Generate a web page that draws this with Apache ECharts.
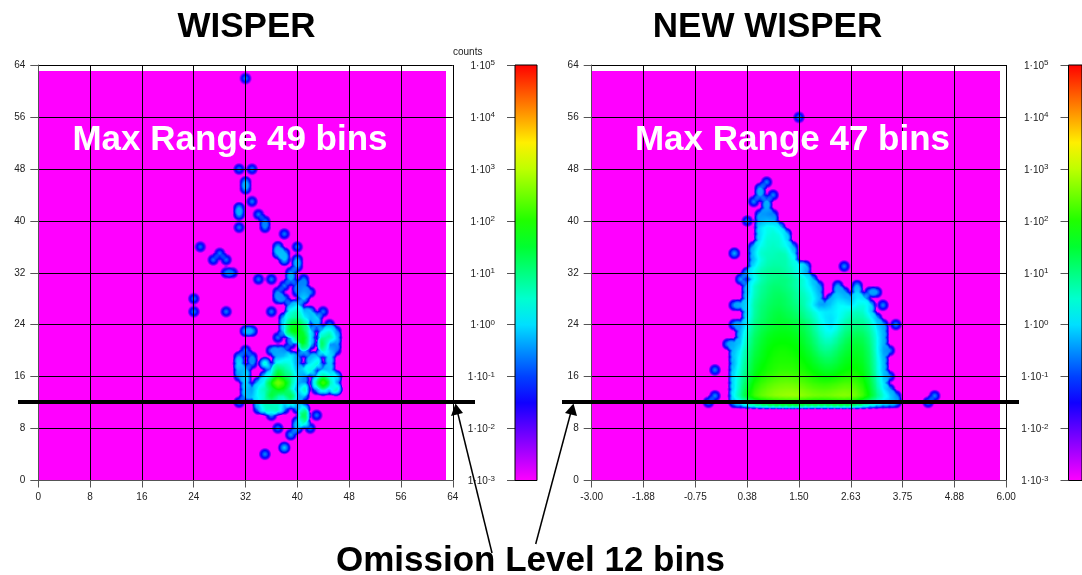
<!DOCTYPE html>
<html><head><meta charset="utf-8">
<style>html,body{margin:0;padding:0;background:#fff;overflow:hidden}#c{width:1082px;height:575px}</style>
<script src="https://cdn.jsdelivr.net/npm/echarts@6/dist/echarts.min.js"></script>
</head><body><div id="c"></div>
<script>
// counts per bin, [y, x, v, x, v, ...]
const leftBins = [
[62,32,.25],[48,31,.25,33,.25],[46,32,.5],[45,32,.5],[43,33,.25],[42,31,.5],[41,31,.5,34,.25],
[40,35,.25],[39,35,.3,31,.25],[38,38,.25],[36,25,.2,37,.5,40,.25],[35,28,.25,37,.7,38,.6],
[34,27,.25,29,.25,38,.7,40,.5],[33,40,.5],[32,29,.25,30,.2,39,.5],[31,34,.25,36,.25,39,.5,41,.25],
[30,38,.3,40,.25,41,.3],[29,37,.3,40,.25,41,.5,42,.3],[28,24,.25,37,.4,38,.3,41,.8],
[27,39,.5,40,1],[26,24,.25,29,.25,36,.25,39,2,40,5,41,.5,42,.8,44,.25],
[25,38,.8,39,5,40,8,41,2,42,.5,43,1],[24,38,1,39,30,40,50,41,8,43,.5,45,.25],
[23,32,.6,33,.5,38,.8,39,50,40,80,41,20,42,1,44,1,45,3,46,.3],
[22,37,.25,39,.3,40,20,41,60,42,1,44,5,45,8,46,.8],[21,39,.25,41,40,42,.8,44,20,45,.2,46,.4],
[20,32,.3,36,.4,37,.5,38,.3,41,1,44,3,45,1,46,.25],
[19,31,.5,33,.3,37,.5,38,.8,39,1.5,40,.3,42,.5,43,.8,45,1],
[18,31,1,33,.3,35,3,37,2,38,3,39,2,40,.3,42,1,43,3,45,.8],
[17,31,.6,32,.6,36,.6,37,20,38,8,39,3,40,.5,41,1,42,3,44,.5,45,.8],
[16,31,.3,32,1,35,1,36,3,37,60,38,15,39,8,40,.8,41,.3,43,.5,44,8,45,1.5,46,1.5],
[15,32,.8,34,.8,35,2,36,60,37,500,38,120,39,8,40,.5,41,.3,43,5,44,300,45,8,46,.3],
[14,32,.8,33,.3,34,2,35,5,36,15,37,60,38,40,39,3,40,.3,41,5,43,.3,44,3,45,.5,46,5],
[13,32,.6,33,.6,34,2,35,3,36,40,37,5,38,5,39,30,40,.5,41,.6],
[12,31,.3,34,1,35,5,36,3,37,3,38,1,39,3,40,.5],
[11,34,.4,35,3,36,5,37,4,38,.3,40,.3,41,3],[10,36,.3,41,20,43,.25],[9,40,.5,41,5],
[8,37,.25,40,.6,42,.25],[7,39,.4],[5,38,.8],[4,35,.3]
];
// [y, first x, counts...]
const rightRows = [
[56,32,[.25]],[46,27,[.3]],[45,26,[.5]],[44,26,[.5]],[44,28,[.3]],[43,25,[.3]],[43,27,[.5]],[42,27,[.5]],
[41,26,[.4,.3,.25]],[40,24,[.25]],[40,26,[.4,.6,.5]],[39,26,[1,2,2,1]],[38,26,[1,2,3,2,.8]],[37,26,[1,3,3,3,1]],
[36,25,[.5,2,3,4,3,2,.5]],[35,22,[.5]],[35,25,[.7,3,4,4,5,4,1]],[34,25,[.5,2,4,5,5,5,2]],
[33,25,[1,3,5,6,6,5,3,1.5,.7]],[33,39,[.3]],[32,24,[.6,2,5,7,8,8,6,4,1.5,.5]],
[31,23,[.5]],[31,25,[1,4,7,9,10,10,7,4,2,.6]],
[30,24,[.5,3,6,9,12,12,10,7,4,2,1,.4]],[30,38,[.4]],[30,41,[.5]],
[29,24,[.6,3,7,10,14,15,12,9,5,3,1.5,.5]],[29,38,[.6,.4]],[29,41,[.9]],[29,43,[.4,.4]],
[28,24,[.7,4,8,12,16,18,15,10,6,4,2,.7]],[28,37,[.5,1,.7,.5,1.5,1]],
[27,22,[.4,.5,1,5,10,14,18,20,16,12,8,4,1.5,.4,.4,.8,1.5,1.5,1,2,2.5,1]],[27,45,[.3]],
[26,24,[.8,5,11,16,22,25,20,16,10,6,3,1.5,1.2,1.2,1.5,2,3,4,3,.8]],
[25,24,[1,6,12,18,25,30,25,20,15,8,5,2,1.2,1,1.5,3,5,6,5,2,.5]],
[24,22,[.4,.4,1.5,8,15,22,30,35,35,30,25,15,8,3,1.5,1,2,5,8,9,8,4,1,.4]],[24,47,[.3]],
[23,23,[.5,3,10,20,30,40,45,45,40,30,20,10,4,2,1.5,3,8,12,15,12,6,1.5,.5]],
[22,23,[.6,4,14,25,40,50,55,55,50,40,25,14,6,3,3,6,12,20,22,18,8,2,.5]],
[21,21,[.4,.5,.8,5,16,30,45,60,65,65,60,50,30,18,8,5,5,9,18,28,30,22,10,2,.5]],
[20,22,[.6,1.5,7,20,35,55,70,80,80,70,60,40,25,12,8,9,15,25,35,38,28,12,2,.4,.3]],
[19,22,[.7,2,8,25,40,60,80,90,90,85,70,50,35,20,14,14,22,35,45,45,32,14,2.5,.5]],
[18,22,[.5,2.5,10,30,50,70,90,100,100,100,85,65,45,30,22,22,30,45,55,55,38,15,3,.6]],
[17,19,[.3]],[17,22,[.8,3,12,35,60,80,100,120,120,120,100,80,60,45,35,35,45,60,70,65,45,18,3,.6]],
[16,22,[1,4,15,45,80,110,140,170,180,170,150,120,90,70,60,60,75,90,100,90,60,22,4,.8,.3]],
[15,22,[1,5,20,70,120,170,220,260,280,270,230,180,140,120,110,120,140,170,170,130,80,28,5,1]],
[14,22,[1,6,30,100,180,260,340,400,430,430,380,300,240,210,200,220,260,300,280,200,110,35,7,1.5,.4]],
[13,19,[.3]],[13,53,[.3]],
[13,22,[1.5,8,40,130,240,340,450,540,600,620,560,460,380,340,330,370,430,470,420,280,140,45,10,3,1,.3]],
[12,18,[.3]],[12,52,[.3]],
[12,22,[.5,1,4,9,17,25,32,38,42,43,40,34,29,27,27,29,32,34,30,20,10,4,2,1,.8,.5]]
];
const gridTicks = [0,8,16,24,32,40,48,56,64];
const leftXLabels = ['0','8','16','24','32','40','48','56','64'];
const rightXLabels = ['-3.00','-1.88','-0.75','0.38','1.50','2.63','3.75','4.88','6.00'];

const FONT='"Liberation Sans",Arial,sans-serif';
function hsv(h){ const f=(n)=>{const k=(n+h/60)%6;return 255*(1-Math.max(0,Math.min(k,4-k,1)));}; return [f(5),f(3),f(1)]; }
function gridFrom(list){ const g=[];for(let y=0;y<64;y++)g.push(new Float64Array(64)); list(g); return g; }
function toCanvas(g){
  const P=1/3,S=7,N=63*S+1,RAD=1.15,r=Math.ceil(RAD*S);
  const c=document.createElement('canvas');c.width=N;c.height=N;
  const ctx=c.getContext('2d'),im=ctx.createImageData(N,N);
  const sum=new Float64Array(N*N),wt=new Float64Array(N*N);
  for(let y=0;y<64;y++)for(let x=0;x<64;x++){
    if(!g[y][x])continue;const a=Math.pow(g[y][x],P);
    const px0=x*S,py0=(63-y)*S;
    for(let dy=-r;dy<=r;dy++){const py=py0+dy;if(py<0||py>=N)continue;
      for(let dx=-r;dx<=r;dx++){const px=px0+dx;if(px<0||px>=N)continue;
        const w=1-Math.sqrt(dx*dx+dy*dy)/(S*RAD);if(w<=0)continue;sum[py*N+px]+=a*w;wt[py*N+px]+=w;}}
  }
  for(let i=0;i<N*N;i++){const v=Math.pow(sum[i]/Math.max(1,wt[i]),1/P);
    const e=v<=1e-3?-3:Math.min(5,Math.log10(v));
    const col=hsv(37.5*(5-e));im.data[i*4]=col[0];im.data[i*4+1]=col[1];im.data[i*4+2]=col[2];im.data[i*4+3]=255;}
  ctx.putImageData(im,0,0);return c;
}
const leftImage=toCanvas(gridFrom(g=>{leftBins.forEach(r=>{for(let i=1;i<r.length;i+=2)g[r[0]][r[i]]=r[i+1];});}));
const rightImage=toCanvas(gridFrom(g=>{rightRows.forEach(r=>{r[2].forEach((v,i)=>{g[r[0]][r[1]+i]=v;});});}));

const imageItem=(img)=>(params,api)=>{
  const a=api.coord([0,63]),b=api.coord([63,0]);
  return {type:'image',style:{image:img,x:a[0],y:a[1],width:b[0]-a[0],height:b[1]-a[1]}};
};
const barItem=(params,api)=>{
  const a=api.coord([0,5]),b=api.coord([1,-3]);
  const stops=[];for(let i=0;i<=16;i++){const c=hsv(37.5*i*0.5);stops.push({offset:i/16,color:`rgb(${c.map(Math.round).join(',')})`});}
  return {type:'rect',shape:{x:a[0],y:a[1],width:b[0]-a[0],height:b[1]-a[1]},
    style:{fill:new echarts.graphic.LinearGradient(0,0,0,1,stops),stroke:'#000',lineWidth:1}};
};
const tickStyle={color:'#555',width:1};
const labelStyle={fontFamily:FONT,fontSize:10,color:'#222'};
function mainX(i,labels){return {gridIndex:i,type:'value',min:0,max:64,interval:8,z:5,
  axisLine:{show:true,onZero:false,lineStyle:tickStyle},axisTick:{show:true,length:7,lineStyle:tickStyle},
  splitLine:{show:true,lineStyle:{color:'#000',width:1}},
  axisLabel:{...labelStyle,margin:12,hideOverlap:false,showMinLabel:true,showMaxLabel:true,formatter:v=>labels[gridTicks.indexOf(v)]}};}
function mainY(i){return {gridIndex:i,type:'value',min:0,max:64,interval:8,z:5,
  axisLine:{show:true,onZero:false,lineStyle:tickStyle},axisTick:{show:true,length:8,lineStyle:tickStyle},
  splitLine:{show:true,lineStyle:{color:'#000',width:1}},
  axisLabel:{...labelStyle,margin:13,showMinLabel:true,showMaxLabel:true}};}
function barX(i){return {gridIndex:i,type:'value',min:0,max:1,show:false};}
function barY(i){return {gridIndex:i,type:'value',min:-3,max:5,interval:1,
  axisLine:{show:false},axisTick:{show:true,length:8,lineStyle:tickStyle},splitLine:{show:false},
  axisLabel:{margin:20,showMinLabel:true,showMaxLabel:true,
    formatter:v=>'{a|1·10}{s|'+v+'}',
    rich:{a:{...labelStyle,verticalAlign:'bottom',lineHeight:12},s:{...labelStyle,fontSize:8,verticalAlign:'top',lineHeight:12,padding:[0,0,4,0]}}}};}
const TOP=65,H=415.5;
const chart=echarts.init(document.getElementById('c'),null,{renderer:'canvas',width:1082,height:575});
const line=(x1,y1,x2,y2,w)=>({type:'line',z:20,shape:{x1,y1,x2,y2},style:{stroke:'#000',lineWidth:w}});
const head=(pts)=>({type:'polygon',z:21,shape:{points:pts},style:{fill:'#000'}});
const txt=(t,x,y,size,fill,ax)=>({type:'text',z:20,x,y,style:{text:t,fill,font:`bold ${size}px ${FONT}`,textAlign:ax||'center',textVerticalAlign:'middle'}});
chart.setOption({
  animation:false,backgroundColor:'#fff',
  grid:[{left:38.3,top:TOP,width:414.5,height:H},{left:591.7,top:TOP,width:414.5,height:H},
        {left:515,top:TOP,width:22,height:H},{left:1068.5,top:TOP,width:22,height:H}],
  xAxis:[mainX(0,leftXLabels),mainX(1,rightXLabels),barX(2),barX(3)],
  yAxis:[mainY(0),mainY(1),barY(2),barY(3)],
  series:[
    {type:'custom',xAxisIndex:0,yAxisIndex:0,clip:false,data:[[0,0]],renderItem:imageItem(leftImage),silent:true},
    {type:'custom',xAxisIndex:1,yAxisIndex:1,clip:false,data:[[0,0]],renderItem:imageItem(rightImage),silent:true},
    {type:'custom',xAxisIndex:2,yAxisIndex:2,clip:false,data:[[0,0]],renderItem:barItem,silent:true},
    {type:'custom',xAxisIndex:3,yAxisIndex:3,clip:false,data:[[0,0]],renderItem:barItem,silent:true}
  ],
  graphic:[
    txt('WISPER',246.5,27,35,'#000'),txt('NEW WISPER',767.5,27,35,'#000'),
    txt('Max Range 49 bins',230,140,35,'#fff'),txt('Max Range 47 bins',792.5,140,35,'#fff'),
    txt('Omission Level 12 bins',530.5,561,35,'#000'),
    {type:'text',z:20,x:453,y:52,style:{text:'counts',fill:'#222',font:`10px ${FONT}`,textVerticalAlign:'middle'}},
    line(18,402,475,402,4),line(562,402,1019,402,4),
    line(492,553,457,410,1.5),head([[455.5,403.5],[451,416],[463,413]]),
    line(535.7,544,571.5,410,1.5),head([[573.5,403.5],[565,413],[577,416]])
  ]
});
</script></body></html>
